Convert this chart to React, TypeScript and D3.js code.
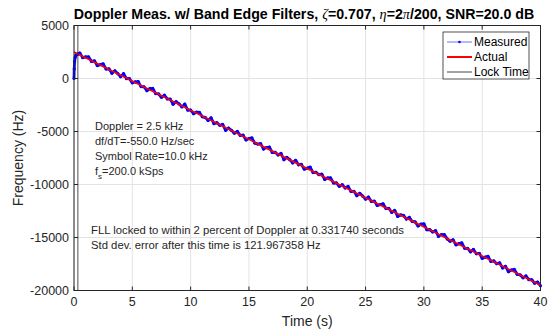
import React from "react";
import * as d3 from "d3";

const xTicks = [0, 5, 10, 15, 20, 25, 30, 35, 40];
const yTicks = [5000, 0, -5000, -10000, -15000, -20000];

// Actual Doppler line (end points)
const actualT = [0, 40];
const actualF = [2500, -19500];

// Measured: initial transient
const transientT = [0, 0.02, 0.05, 0.1, 0.15, 0.2, 0.3, 0.4];
const transientF = [0, 900, 1600, 2000, 2150, 2250, 2300, 2330];

// Measured: error relative to actual, every 0.25 s from 0.5 s to 40 s
const measStart = 0.5;
const measStep = 0.25;
const measErr = [
  180, -120, 90, 220, -60, 130, -180, 40, 260, -90,
  60, -220, 150, 30, -130, 300, -40, 100, -160, 70,
  240, -100, 20, -210, 120, 280, -70, 40, -150, 190,
  -30, 90, -250, 130, 60, -90, 320, -120, 30, -190,
  100, 220, -60, 20, -130, 260, -160, 70, -40, 180,
  -240, 120, 40, -100, 210, -30, 130, -180, 90, 290,
  -70, -20, 160, -220, 60, 250, -130, 30, -90, 190,
  -260, 100, 20, -150, 240, -60, 120, -190, 40, 280,
  -100, 70, -30, 160, -210, 90, 220, -120, 30, -160,
  130, -40, 250, -90, 60, -220, 150, 20, -130, 210,
  -70, 100, -180, 40, 260, -60, 90, -150, 180, -250,
  30, 130, -90, 220, -40, 60, -190, 120, 290, -130,
  20, -70, 190, -210, 100, 240, -30, -120, 160, -180,
  70, 280, -90, 40, -150, 210, -60, 120, -220, 30,
  250, -100, 90, -40, 180, -160, 130, -240, 60, 260,
  -70, 20, -130, 190, -30, 100, -90, 160, -60,
];

const lockTime = 0.33174;

const legendItems = ["Measured", "Actual", "Lock Time"];
const infoLines = ["Doppler = 2.5 kHz", "df/dT=-550.0 Hz/sec", "Symbol Rate=10.0 kHz"];
const lockLines = [
  "FLL locked to within 2 percent of Doppler at 0.331740 seconds",
  "Std dev. error after this time is 121.967358 Hz",
];

export default function App() {
  const W = 549, H = 332;
  const L = 74, R = 540.5, T = 25.5, B = 290.5;
  const x = d3.scaleLinear().domain([0, 40]).range([L, R]);
  const y = d3.scaleLinear().domain([-20000, 5000]).range([B, T]);
  const actualAt = d3.scaleLinear().domain(actualT).range(actualF);

  const measured: [number, number][] = transientT.map((t, i) => [t, transientF[i]]);
  measErr.forEach((e, i) => {
    const t = measStart + i * measStep;
    measured.push([t, actualAt(t) + e]);
  });

  const line = d3.line<[number, number]>().x((d) => x(d[0])).y((d) => y(d[1]));
  const actualPts: [number, number][] = actualT.map((t, i) => [t, actualF[i]]);

  const axisColor = "#262626";
  const gridColor = "#e3e3e3";
  const font = "'Liberation Sans', Arial, sans-serif";
  const serif = "'Liberation Serif', serif";

  return (
    <svg width={W} height={H} style={{ position: "absolute", left: 0, top: 0, background: "#fff" }} fontFamily={font}>
      <rect x={0} y={0} width={W} height={H} fill="#fff" />
      {/* grid */}
      {xTicks.map((t) => (
        <line key={"gx" + t} x1={x(t)} x2={x(t)} y1={T} y2={B} stroke={gridColor} strokeWidth={1} />
      ))}
      {yTicks.map((v) => (
        <line key={"gy" + v} x1={L} x2={R} y1={y(v)} y2={y(v)} stroke={gridColor} strokeWidth={1} />
      ))}
      {/* data */}
      <path d={line(measured) || ""} fill="none" stroke="#0000ff" strokeWidth={2.8} strokeLinejoin="round" />
      {measured.map((d, i) => (
        <circle key={"m" + i} cx={x(d[0])} cy={y(d[1])} r={1.6} fill="#0000ff" />
      ))}
      <path d={line(actualPts) || ""} fill="none" stroke="#ff0000" strokeWidth={1.6} />
      <line x1={x(lockTime)} x2={x(lockTime)} y1={T} y2={B} stroke="#222" strokeWidth={0.8} />
      {/* box */}
      <rect x={L} y={T} width={R - L} height={B - T} fill="none" stroke={axisColor} strokeWidth={1} />
      {/* ticks */}
      {xTicks.map((t) => (
        <g key={"tx" + t}>
          <line x1={x(t)} x2={x(t)} y1={B} y2={B - 4} stroke={axisColor} />
          <line x1={x(t)} x2={x(t)} y1={T} y2={T + 4} stroke={axisColor} />
          <text x={x(t)} y={B + 15} textAnchor="middle" fontSize={12.5} fill={axisColor}>{t}</text>
        </g>
      ))}
      {yTicks.map((v) => (
        <g key={"ty" + v}>
          <line x1={L} x2={L + 4} y1={y(v)} y2={y(v)} stroke={axisColor} />
          <line x1={R} x2={R - 4} y1={y(v)} y2={y(v)} stroke={axisColor} />
          <text x={L - 5} y={y(v) + 4.5} textAnchor="end" fontSize={12.5} fill={axisColor}>{v}</text>
        </g>
      ))}
      {/* labels */}
      <text x={(L + R) / 2} y={326} textAnchor="middle" fontSize={14} fill={axisColor}>Time (s)</text>
      <text transform={`translate(23,${(T + B) / 2}) rotate(-90)`} textAnchor="middle" fontSize={14} fill={axisColor}>Frequency (Hz)</text>
      <text x={304} y={19} textAnchor="middle" fontSize={14.2} fontWeight="bold" fill="#000">
        Doppler Meas. w/ Band Edge Filters, <tspan fontFamily={serif} fontStyle="italic" fontWeight="normal">ζ</tspan>=0.707, <tspan fontFamily={serif} fontStyle="italic" fontWeight="normal">η</tspan>=2<tspan fontFamily={serif} fontStyle="italic" fontWeight="normal">π</tspan>/200, SNR=20.0 dB
      </text>
      {/* info text */}
      {infoLines.map((s, i) => (
        <text key={"info" + i} x={95} y={130 + i * 15} fontSize={11} fill={axisColor}>{s}</text>
      ))}
      <text x={95} y={175} fontSize={11} fill={axisColor}>
        f<tspan fontSize={8} dy={4}>s</tspan><tspan dy={-4}>=200.0 kSps</tspan>
      </text>
      {lockLines.map((s, i) => (
        <text key={"lock" + i} x={91} y={234 + i * 15} fontSize={11.3} fill={axisColor}>{s}</text>
      ))}
      {/* legend */}
      <rect x={443} y={32} width={86} height={47} fill="#fff" stroke={axisColor} strokeWidth={0.8} />
      {legendItems.map((s, i) => {
        const yy = 42 + i * 15;
        const col = i === 0 ? "#6f6fff" : i === 1 ? "#ff0000" : "#444";
        const sw = i === 1 ? 2 : 1;
        return (
          <g key={"lg" + i}>
            <line x1={447} x2={472} y1={yy} y2={yy} stroke={col} strokeWidth={sw} />
            {i === 0 && <circle cx={459.5} cy={yy} r={1.3} fill="#0000ff" />}
            <text x={474} y={yy + 4} fontSize={12} fill="#000">{s}</text>
          </g>
        );
      })}
    </svg>
  );
}
